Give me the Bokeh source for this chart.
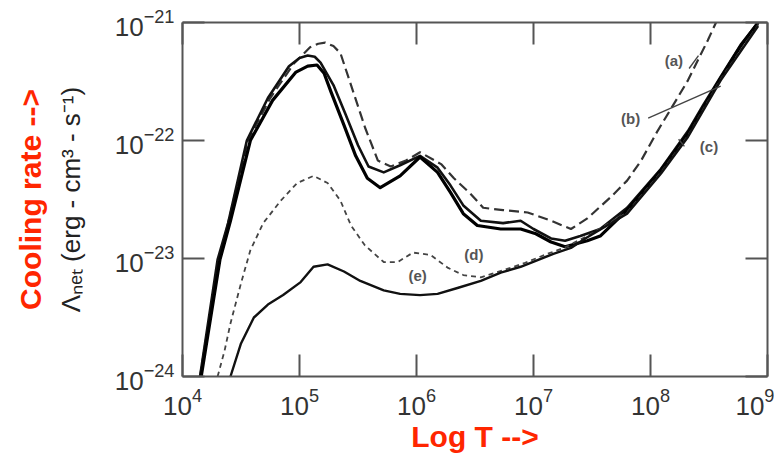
from bokeh.plotting import figure
from bokeh.models import LogAxis, FixedTicker
from bokeh.embed import file_html
from bokeh.resources import INLINE
from bokeh.core.properties import value

x_ticks = [1e4, 1e5, 1e6, 1e7, 1e8, 1e9]
y_ticks = [1e-24, 1e-23, 1e-22, 1e-21]

# curve (a) dashed
logT_a = [4.15, 4.31, 4.39, 4.56, 4.75, 4.95, 5.09, 5.16, 5.22, 5.29, 5.35, 5.46, 5.56, 5.67,
          5.78, 5.91, 6.03, 6.21, 6.32, 6.46, 6.57, 6.74, 6.95, 7.15, 7.32, 7.46, 7.66, 7.80,
          7.92, 8.06, 8.20, 8.32, 8.49, 8.56]
logL_a = [-24.0, -23.01, -22.70, -22.0, -21.64, -21.35, -21.21, -21.18, -21.17, -21.20, -21.26,
          -21.59, -21.89, -22.17, -22.22, -22.17, -22.10, -22.20, -22.32, -22.45, -22.57, -22.59,
          -22.61, -22.68, -22.75, -22.66, -22.48, -22.34, -22.17, -21.92, -21.69, -21.49, -21.15,
          -21.0]

# curve (b) solid
logT_b = [4.15, 4.30, 4.39, 4.55, 4.73, 4.91, 5.00, 5.07, 5.13, 5.18, 5.29, 5.39, 5.50, 5.59,
          5.72, 5.86, 6.03, 6.18, 6.29, 6.40, 6.55, 6.74, 6.89, 7.00, 7.15, 7.27, 7.40, 7.57,
          7.80, 8.09, 8.32, 8.45, 8.60, 8.77, 8.92]
logL_b = [-24.0, -23.01, -22.70, -22.0, -21.64, -21.37, -21.30, -21.28, -21.29, -21.34, -21.53,
          -21.77, -22.04, -22.22, -22.27, -22.21, -22.13, -22.23, -22.38, -22.55, -22.68, -22.70,
          -22.68, -22.75, -22.83, -22.85, -22.81, -22.75, -22.57, -22.24, -21.92, -21.70, -21.46,
          -21.19, -21.0]

# curve (c) solid, heavy
logT_c = [4.16, 4.32, 4.41, 4.58, 4.77, 4.97, 5.07, 5.15, 5.21, 5.27, 5.38, 5.48, 5.58, 5.69,
          5.86, 6.03, 6.18, 6.29, 6.40, 6.52, 6.72, 6.89, 7.02, 7.15, 7.27, 7.46, 7.57, 7.80,
          8.09, 8.32, 8.45, 8.60, 8.77, 8.92]
logL_c = [-24.0, -23.01, -22.68, -22.0, -21.66, -21.42, -21.37, -21.36, -21.43, -21.59, -21.87,
          -22.13, -22.32, -22.40, -22.30, -22.14, -22.27, -22.44, -22.62, -22.72, -22.75, -22.75,
          -22.79, -22.86, -22.90, -22.85, -22.81, -22.59, -22.25, -21.94, -21.72, -21.47, -21.20,
          -21.0]

# curve (d) thin dashed
logT_d = [4.30, 4.36, 4.41, 4.50, 4.58, 4.69, 4.84, 4.98, 5.12, 5.24, 5.35, 5.44, 5.56, 5.72,
          5.84, 5.97, 6.12, 6.27, 6.40, 6.55, 6.74, 6.92, 7.12, 7.26, 7.46, 7.80, 8.09, 8.32,
          8.60, 8.92]
logL_d = [-24.0, -23.78, -23.55, -23.21, -22.93, -22.70, -22.51, -22.36, -22.30, -22.36, -22.51,
          -22.72, -22.89, -23.03, -23.03, -22.95, -22.97, -23.08, -23.14, -23.16, -23.10, -23.04,
          -22.96, -22.91, -22.81, -22.61, -22.27, -21.96, -21.48, -21.02]

# curve (e) solid
logT_e = [4.41, 4.50, 4.61, 4.73, 4.86, 5.01, 5.12, 5.24, 5.38, 5.52, 5.72, 5.86, 6.03, 6.18,
          6.35, 6.55, 6.72, 6.89, 7.17, 7.32, 7.46, 7.80, 8.09, 8.32, 8.60, 8.92]
logL_e = [-24.0, -23.72, -23.50, -23.39, -23.31, -23.20, -23.07, -23.05, -23.11, -23.19, -23.27,
          -23.30, -23.31, -23.30, -23.25, -23.19, -23.12, -23.07, -22.96, -22.91, -22.82, -22.62,
          -22.28, -21.97, -21.49, -21.03]

curve_labels = ["(a)", "(b)", "(c)", "(d)", "(e)"]
label_logT = [8.20, 7.83, 8.50, 6.49, 6.01]
label_logL = [-21.32, -21.81, -22.05, -22.97, -23.14]

# leader strokes from labels (a), (b), (c) to their curves
lead_T0 = [8.33, 7.98, 8.29]
lead_L0 = [-21.39, -21.81, -22.05]
lead_T1 = [8.41, 8.60, 8.24]
lead_L1 = [-21.28, -21.54, -21.99]

RED = "#ff2600"
AX = "#555555"

p = figure(width=774, height=457, x_axis_type="log", y_axis_type="log",
           x_range=(1e4, 1e9), y_range=(1e-24, 1e-21),
           output_backend="svg", toolbar_location=None,
           min_border_left=182, min_border_right=7, min_border_top=22, min_border_bottom=81)
p.outline_line_color = None
p.xgrid.visible = False
p.ygrid.visible = False
p.background_fill_color = "white"
p.border_fill_color = "white"


def tpow(v):
    return [10 ** t for t in v]


p.line(tpow(logT_a), tpow(logL_a), line_color="#333333", line_width=2.2, line_dash="10 5",
       line_join="round")
p.line(tpow(logT_b), tpow(logL_b), line_color="#111111", line_width=2.6, line_join="round")
p.line(tpow(logT_c), tpow(logL_c), line_color="#000000", line_width=3.2, line_join="round")
p.line(tpow(logT_d), tpow(logL_d), line_color="#444444", line_width=1.8, line_dash="5 4",
       line_join="round")
p.line(tpow(logT_e), tpow(logL_e), line_color="#111111", line_width=2.4, line_join="round")

p.text(tpow(label_logT), tpow(label_logL), text=curve_labels, text_font=value("Liberation Sans"),
       text_font_size="15px", text_color="#555555", text_align="center", text_baseline="middle",
       text_font_style="bold")
p.segment(tpow(lead_T0), tpow(lead_L0), tpow(lead_T1), tpow(lead_L1), line_color="#444444",
          line_width=1.4)


def style(ax, ticks):
    ax.ticker = FixedTicker(ticks=ticks)
    ax.major_tick_in = 22
    ax.major_tick_out = 0
    ax.minor_tick_line_color = None
    ax.axis_line_color = AX
    ax.axis_line_width = 2
    ax.major_tick_line_color = AX
    ax.major_tick_line_width = 2
    ax.major_label_text_font = "Liberation Sans"
    ax.major_label_text_color = "#333333"
    ax.major_label_text_font_size = "26px"


def hide_labels(ax):
    ax.major_label_text_font_size = "1px"
    ax.major_label_text_color = None
    ax.major_label_standoff = 0


xa = p.xaxis[0]
style(xa, x_ticks)
xa.major_label_standoff = 11
xa.axis_label = "Log T -->"
xa.axis_label_text_font = "Liberation Sans"
xa.axis_label_text_font_style = "bold"
xa.axis_label_text_font_size = "30px"
xa.axis_label_text_color = RED
xa.axis_label_standoff = 2

ya = p.yaxis[0]
style(ya, y_ticks)
ya.major_label_standoff = 8
ya.axis_label = "Λₙₑₜ (erg - cm³ - s⁻¹)"
ya.axis_label_text_font = "Liberation Sans"
ya.axis_label_text_font_style = "normal"
ya.axis_label_text_font_size = "26px"
ya.axis_label_text_color = "#222222"
ya.axis_label_standoff = 26

ya2 = LogAxis(ticker=FixedTicker(ticks=y_ticks))
ya2.axis_line_color = None
ya2.major_tick_line_color = None
ya2.minor_tick_line_color = None
ya2.major_tick_in = 0
ya2.major_tick_out = 0
hide_labels(ya2)
ya2.axis_label = "Cooling rate -->"
ya2.axis_label_text_font = "Liberation Sans"
ya2.axis_label_text_font_style = "bold"
ya2.axis_label_text_font_size = "30px"
ya2.axis_label_text_color = RED
ya2.axis_label_standoff = 6
p.add_layout(ya2, "left")

top = LogAxis()
style(top, x_ticks)
hide_labels(top)
p.add_layout(top, "above")

right = LogAxis()
style(right, y_ticks)
hide_labels(right)
p.add_layout(right, "right")

open("out.html", "w").write(file_html(p, INLINE))
